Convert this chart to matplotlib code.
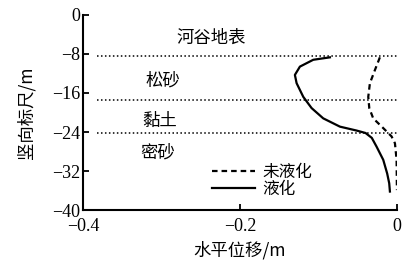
import numpy as np
import matplotlib.pyplot as plt

plt.rcParams['font.serif'] = ['Liberation Serif', 'DejaVu Serif']
plt.rcParams['font.family'] = ['serif']
cjk = ['Noto Sans CJK SC', 'DejaVu Sans']

# 液化 (liquefied)
liq_x = [-0.0854, -0.1066, -0.1236, -0.130, -0.1278, -0.1193, -0.1087, -0.0939,
         -0.0726, -0.0514, -0.0400, -0.0320, -0.0259, -0.0174, -0.0124, -0.0098, -0.0089]
liq_y = [-8.7, -9.2, -10.6, -12.3, -14.0, -16.8, -19.1, -21.2,
         -22.9, -23.7, -24.2, -25.2, -27.0, -29.7, -32.5, -34.5, -36.2]

# 未液化 (not liquefied)
nl_x = [-0.0217, -0.028, -0.0344, -0.0365, -0.0352, -0.0302, -0.0174, -0.0068,
        -0.0025, -0.0004, 0.0]
nl_y = [-8.7, -11.3, -14.0, -16.8, -19.1, -21.2, -23.2, -24.9, -26.3, -29.7, -35.9]

layer_depths = [-8.5, -17.5, -24.2]
layer_names = ['河谷地表', '松砂', '黏土', '密砂']
layer_pos = [(-0.237, -4.7), (-0.298, -13.5), (-0.302, -21.7), (-0.305, -28.2)]

fig = plt.figure(figsize=(4.05, 2.61), dpi=100)
ax = fig.add_axes([0.205, 0.195, 0.775, 0.748])

for d in layer_depths:
    ax.axhline(d, xmin=0.045, xmax=1.0, color='black', lw=1.1, ls=(0, (1, 1.6)))

ax.plot(nl_x, nl_y, color='black', lw=1.6, ls=(0, (2.5, 1.8)), label='未液化')
ax.plot(liq_x, liq_y, color='black', lw=1.6, label='液化')

for name, (x, y) in zip(layer_names, layer_pos):
    ax.text(x, y, name, family=cjk, fontsize=12.5, ha='center', va='center')

ax.set_xlim(-0.4, 0)
ax.set_ylim(-40, 0)
ax.set_xticks([-0.4, -0.2, 0])
ax.set_xticklabels(['−0.4', '−0.2', '0'])
ax.set_yticks([0, -8, -16, -24, -32, -40])
ax.set_yticklabels(['0', '−8', '−16', '−24', '−32', '−40'])
ax.tick_params(direction='in', length=4, width=1.3, labelsize=13, pad=2)
ax.tick_params(axis='x', pad=6)

for s in ['top', 'right']:
    ax.spines[s].set_visible(False)
for s in ['left', 'bottom']:
    ax.spines[s].set_linewidth(1.5)

ax.set_ylabel('竖向标尺/m', family=cjk, fontsize=12.5, labelpad=12)
ax.set_xlabel('水平位移/m', family=cjk, fontsize=12.5, labelpad=4)

leg = ax.legend(loc='lower left', bbox_to_anchor=(0.39, 0.03), frameon=False,
                prop={'family': cjk, 'size': 12}, handlelength=2.6,
                handletextpad=0.4, labelspacing=0.0, borderaxespad=0)

fig.savefig('out.png', dpi=100)
